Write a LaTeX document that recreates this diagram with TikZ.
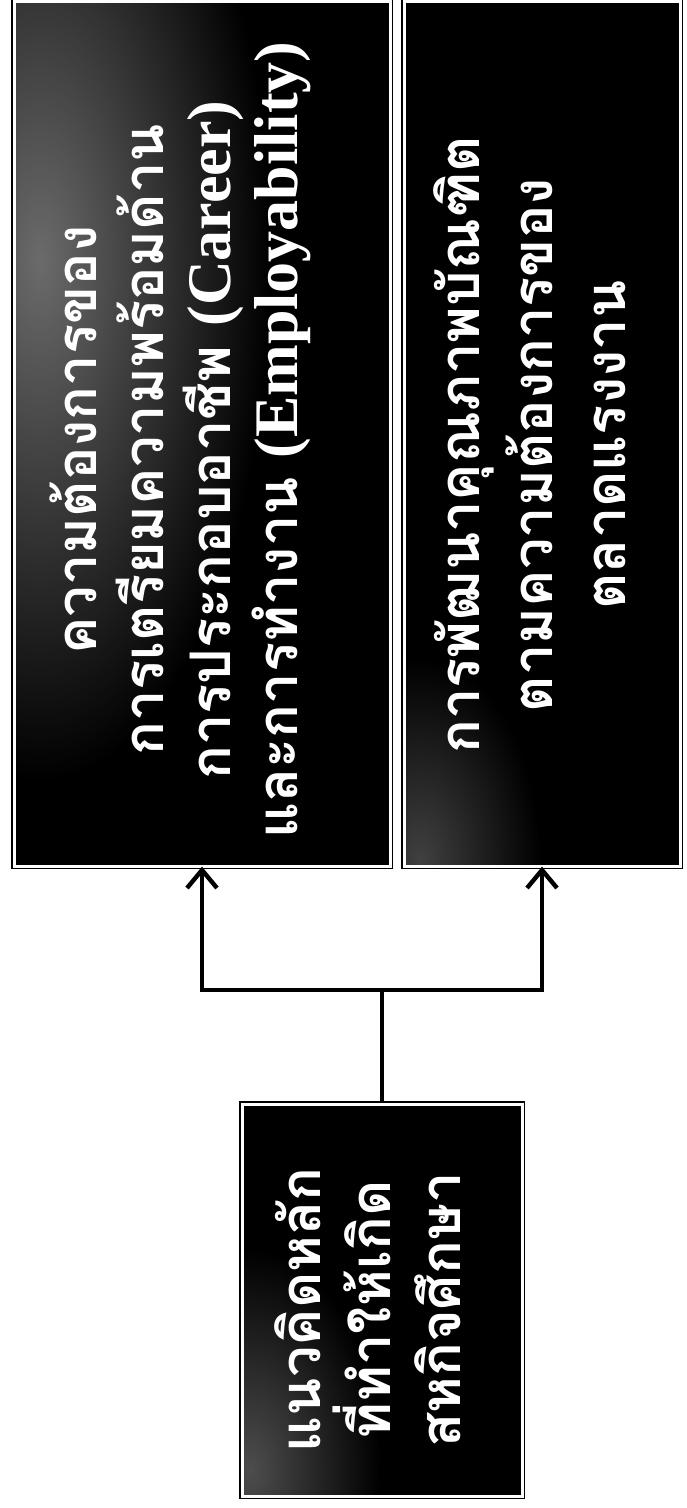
\documentclass[tikz,border=0pt]{standalone}
\usepackage{fontspec}
\newfontfamily\thai[Script=Thai]{Loma}
\newfontfamily\latserif{Liberation Serif}
\usetikzlibrary{arrows.meta,fadings}
\tikzfading[name=softfade, inner color=transparent!0, outer color=transparent!100]
\newcommand{\lat}[1]{{\latserif\bfseries\fontsize{31}{33}\selectfont #1}}
\begin{document}
\begin{tikzpicture}[x=0.5pt,y=-0.5pt,
  blk/.style={fill=black, draw=black, double=white, double distance=1.5pt, line width=0.6pt, inner sep=0pt},
  haze/.style={fill=white, opacity=0.42, path fading=softfade},
  wtxt/.style={text=white, font=\thai\bfseries\fontsize{28}{33.5}\selectfont, align=center, rotate=90, inner sep=0pt},
  conn/.style={line width=2.2pt, draw=black},
  arr/.style={conn, -{Straight Barb[length=9pt,width=15pt,line width=2.2pt]}}]
\useasboundingbox[fill=white] (0,0) rectangle (686,1508);
% boxes
\node[blk, minimum width=188pt, minimum height=432pt] (b2) at (202,434) {};
\node[blk, minimum width=138pt, minimum height=432pt] (b3) at (542,434) {};
\node[blk, minimum width=140pt, minimum height=196pt] (b1) at (382,1300) {};
% scanned grey haze
\begin{scope}
  \clip (15,3) rectangle (389,865);
  \fill[haze] (40,260) ellipse [x radius=230, y radius=520];
\end{scope}
\begin{scope}
  \clip (405,3) rectangle (679,865);
  \fill[haze, opacity=0.25] (420,860) ellipse [x radius=120, y radius=200];
\end{scope}
\begin{scope}
  \clip (243,1105) rectangle (521,1495);
  \fill[haze, opacity=0.3] (250,1470) ellipse [x radius=130, y radius=220];
\end{scope}
% texts
\node[wtxt] (t2) at (180,440) {ความต้องการของ\\การเตรียมความพร้อมด้าน\\การประกอบอาชีพ \lat{(Career)}\\และการทำงาน \lat{(Employability)}};
\node[wtxt, font=\thai\bfseries\fontsize{28}{36.5}\selectfont] (t3) at (530,445) {การพัฒนาคุณภาพบัณฑิต\\ตามความต้องการของ\\ตลาดแรงงาน};
\node[wtxt, font=\thai\bfseries\fontsize{28}{35}\selectfont] (t1) at (368,1310) {แนวคิดหลัก\\ที่ทำให้เกิด\\สหกิจศึกษา};
% connectors
\coordinate (jm) at (382,990);
\draw[conn] (b1.north) -- (jm);
\draw[arr] (jm) -| (b2.south);
\draw[arr] (jm) -| (b3.south);
\end{tikzpicture}
\end{document}
